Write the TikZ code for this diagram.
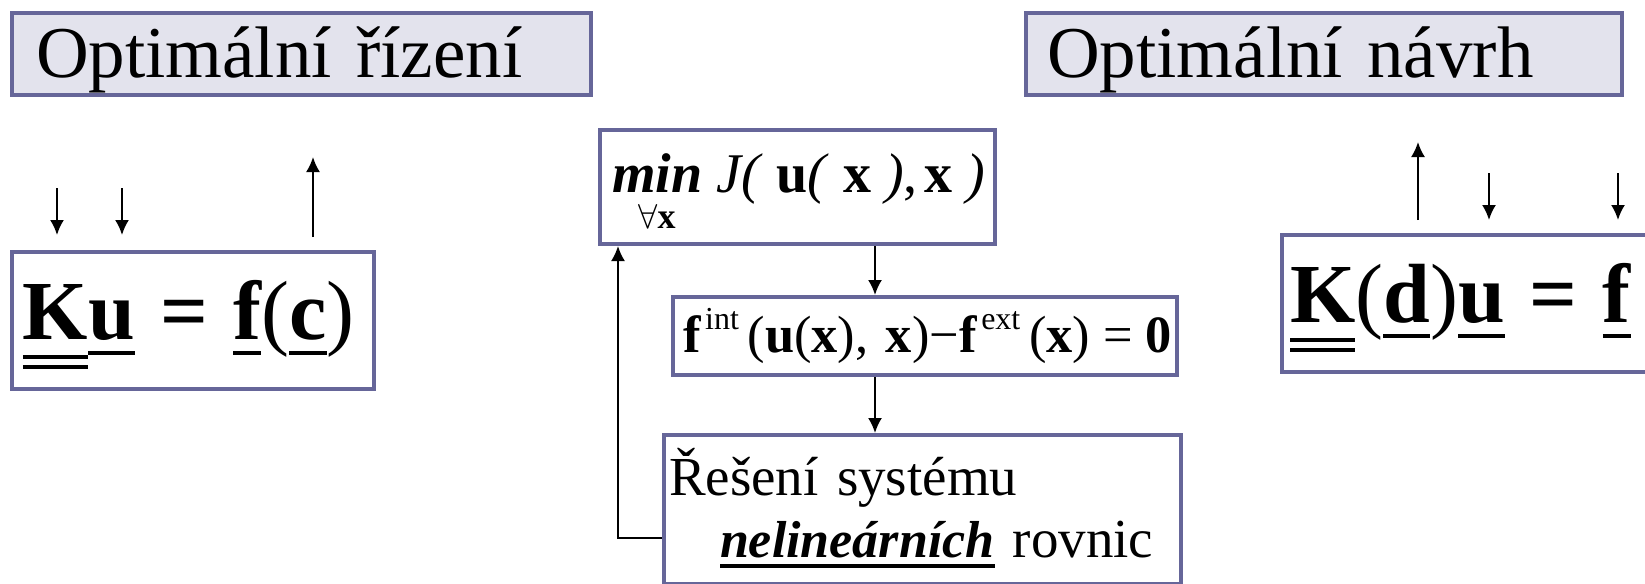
\documentclass[tikz,border=0pt]{standalone}
\usepackage{fontspec}
\setmainfont{Liberation Serif}
\usetikzlibrary{arrows.meta}
\definecolor{boxline}{RGB}{102,102,153}
\definecolor{boxfill}{RGB}{227,227,237}
% podtrzeni: vektor a matice
\newcommand\ul[1]{\setbox0\hbox{#1}\rlap{\rule[-0.19em]{\wd0}{0.045em}}\box0\relax}
\newcommand\uul[1]{\setbox2\hbox{#1}\rlap{\rule[-0.24em]{\wd2}{0.045em}}\rlap{\rule[-0.36em]{\wd2}{0.045em}}\box2\relax}
\newcommand\ulx[1]{\setbox0\hbox{#1}\rlap{\rule[-0.2em]{\wd0}{0.07em}}\box0\relax}
% min pres vsechna x
\newcommand\minx{\setbox4\hbox{\bfseries\itshape min}\rlap{\hbox to\wd4{\hss\raisebox{-18pt}{\fontsize{18}{18}\selectfont$\forall$\bfseries x}\hss}}\box4\relax}

\begin{document}
\begin{tikzpicture}[x=0.5pt,y=-0.5pt,
  box/.style={draw=boxline,line width=2pt,anchor=north west,align=left,inner ysep=0pt,text depth=0pt},
  title/.style={box,fill=boxfill,font=\fontsize{36.5}{40}\selectfont,minimum height=41pt,text height=23pt},
  eq/.style={box,font=\fontsize{42}{46}\selectfont\bfseries,minimum height=68.5pt,text height=18.5pt},
  arr/.style={-{Latex[length=7.5pt,width=7pt]},line width=1pt}
]
\useasboundingbox (0,0) rectangle (1645,584);
\clip (0,0) rectangle (1645,584);

\node[title,text width=265.5pt,inner xsep=12pt] (ctrl) at (10,11) {Optimální řízení};
\node[title,text width=277pt,inner xsep=10.5pt] (design) at (1024,11) {Optimální návrh};

\node[eq,text width=170pt,inner xsep=5.5pt] (ku) at (10,250)
  {\mbox{\uul{K}\ul{u}\hspace{0.3em}=\hspace{0.3em}\ul{f}{\mdseries(}\ul{c}{\mdseries)}}};
\node[eq,text width=192pt,inner xsep=4pt] (kdu) at (1280,233)
  {\mbox{\uul{K}{\mdseries(}\ul{d}{\mdseries)}\ul{u}\hspace{0.3em}=\hspace{0.3em}\ul{f}}};

\node[box,text width=185.5pt,inner xsep=6pt,minimum height=57pt,text height=5pt,font=\fontsize{28}{32}\selectfont] (min) at (598,128)
  {\mbox{\minx\hspace{0.25em}\textit{J(}\hspace{0.25em}\textbf{u}\textit{(}\hspace{0.25em}\textbf{x}\hspace{0.25em}\textit{)},\hspace{0.12em}\textbf{x}\hspace{0.25em}\textit{)}}};
\node[box,text width=242pt,inner xsep=5pt,minimum height=39pt,text height=16pt,font=\fontsize{26.2}{30}\selectfont] (feq) at (671,295)
  {\mbox{\textbf{f}\hspace{0.08em}\raisebox{0.42em}{\fontsize{16}{16}\selectfont int}\,(\textbf{u}(\textbf{x}), \textbf{x})−\textbf{f}\hspace{0.08em}\raisebox{0.42em}{\fontsize{16}{16}\selectfont ext}\,(\textbf{x})\hspace{0.25em}=\hspace{0.25em}\textbf{0}}};
\node[box,text width=253.5pt,inner xsep=2.5pt,minimum height=74.5pt,text height=19.5pt,text depth=34pt,font=\fontsize{27.5}{31}\selectfont] (res) at (662,433)
  {Řešení systému\\\hspace*{25.5pt}\ulx{\fontsize{26}{31}\selectfont\bfseries\itshape nelineárních} rovnic};

% sipky u rovnic
\coordinate (k1) at (57,188);
\coordinate (k2) at (122,188);
\coordinate (cout) at (313,157);
\draw[arr] (k1) -- ([yshift=7.5pt]k1 |- ku.north);
\draw[arr] (k2) -- ([yshift=7.5pt]k2 |- ku.north);
\draw[arr] ([yshift=6.5pt]cout |- ku.north) -- (cout);

\coordinate (dout) at (1418,142);
\coordinate (d1) at (1489,173);
\coordinate (d2) at (1618,173);
\draw[arr] ([yshift=6.5pt]dout |- kdu.north) -- (dout);
\draw[arr] (d1) -- ([yshift=6.5pt]d1 |- kdu.north);
\draw[arr] (d2) -- ([yshift=6.5pt]d2 |- kdu.north);

% smycka optimalizace
\coordinate (mid) at (875,0);
\coordinate (back) at (618,538);
\draw[arr] (min.south -| mid) -- (feq.north -| mid);
\draw[arr] (feq.south -| mid) -- (res.north -| mid);
\draw[arr] (back -| res.west) -| (back |- min.south);
\end{tikzpicture}
\end{document}
